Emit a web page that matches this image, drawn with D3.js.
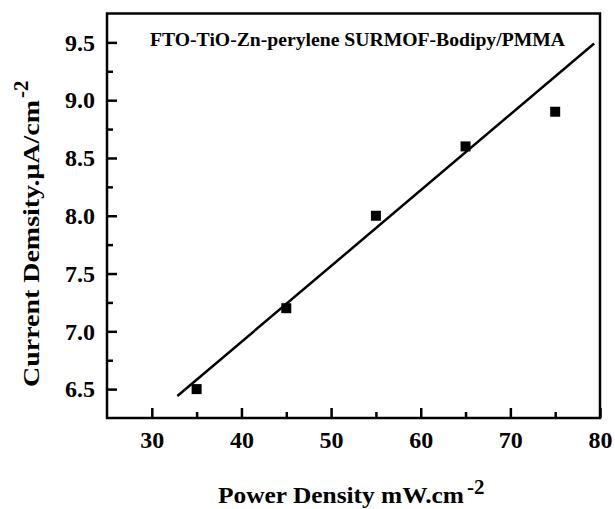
<!DOCTYPE html>
<html><head><meta charset="utf-8">
<script src="https://cdn.jsdelivr.net/npm/d3@7/dist/d3.min.js"></script>
<style>body{margin:0;background:#fff}svg{display:block}text{font-family:"Liberation Serif","Times New Roman",serif !important;font-weight:bold;fill:#000}</style>
</head><body>
<script>
const powerDensity = [35, 45, 55, 65, 75];
const currentDensity = [6.5, 7.2, 8.0, 8.6, 8.9];
const fitX = [32.85, 79.35];
const fitY = [6.44, 9.49];
const xTicks = [30, 40, 50, 60, 70, 80];
const yTicks = [6.5, 7.0, 7.5, 8.0, 8.5, 9.0, 9.5];
const xMinor = [35, 45, 55, 65, 75];
const yMinor = [6.75, 7.25, 7.75, 8.25, 8.75, 9.25];
const titleText = "FTO-TiO-Zn-perylene SURMOF-Bodipy/PMMA";

const W = 615, H = 509;
const m = {l:107, r:600, t:13.5, b:418};
const svg = d3.select("body").append("svg").attr("width", W).attr("height", H);
const x = d3.scaleLinear().domain([25, 80]).range([m.l, m.r]);
const y = d3.scaleLinear().domain([6.25, 9.75]).range([m.b, m.t]);

// frame
svg.append("rect").attr("x", m.l).attr("y", m.t).attr("width", m.r - m.l).attr("height", m.b - m.t)
  .attr("fill", "none").attr("stroke", "#000").attr("stroke-width", 2.5);

function styleAxis(g) {
  g.select(".domain").remove();
  g.selectAll("line").attr("stroke-width", 2.5);
  g.selectAll("text").style("font-size", "24px");
}

// x axis
svg.append("g").attr("transform", `translate(0,${m.b})`)
  .call(d3.axisBottom(x).tickValues(xTicks).tickSizeInner(-10).tickSizeOuter(0).tickPadding(13).tickFormat(d3.format("d")))
  .call(styleAxis);
svg.append("g").attr("transform", `translate(0,${m.b})`)
  .call(d3.axisBottom(x).tickValues(xMinor).tickSizeInner(-6).tickSizeOuter(0).tickFormat(""))
  .call(styleAxis);

// y axis
svg.append("g").attr("transform", `translate(${m.l},0)`)
  .call(d3.axisLeft(y).tickValues(yTicks).tickSizeInner(-10).tickSizeOuter(0).tickPadding(12).tickFormat(d3.format(".1f")))
  .call(styleAxis);
svg.append("g").attr("transform", `translate(${m.l},0)`)
  .call(d3.axisLeft(y).tickValues(yMinor).tickSizeInner(-6).tickSizeOuter(0).tickFormat(""))
  .call(styleAxis);

// fit line
svg.append("path").datum(fitX.map((v, i) => [v, fitY[i]]))
  .attr("d", d3.line().x(d => x(d[0])).y(d => y(d[1])))
  .attr("stroke", "#000").attr("stroke-width", 2.5).attr("fill", "none");

// points
const s = 10;
svg.selectAll("rect.pt").data(powerDensity).enter().append("rect").attr("class", "pt")
  .attr("x", (d) => x(d) - s/2).attr("y", (d, i) => y(currentDensity[i]) - s/2)
  .attr("width", s).attr("height", s).attr("fill", "#000");

// title
svg.append("text").attr("x", 150).attr("y", 46)
  .attr("textLength", 415).attr("lengthAdjust", "spacingAndGlyphs")
  .style("font-size", "18px").text(titleText);

// axis titles
const xt = svg.append("text").attr("x", 218).attr("y", 503).style("font-size", "24px");
xt.append("tspan").attr("textLength", 246).attr("lengthAdjust", "spacingAndGlyphs").text("Power Density mW.cm");
xt.append("tspan").attr("dx", 3).attr("dy", -9).style("font-size", "21px").text("-2");

const yt = svg.append("text").attr("transform", `translate(39,387) rotate(-90)`).style("font-size", "23px");
yt.append("tspan").attr("textLength", 287).attr("lengthAdjust", "spacingAndGlyphs").text("Current Demsity.\u03bcA/cm");
yt.append("tspan").attr("dx", 2).attr("dy", -11).style("font-size", "21px").text("-2");
</script>
</body></html>
